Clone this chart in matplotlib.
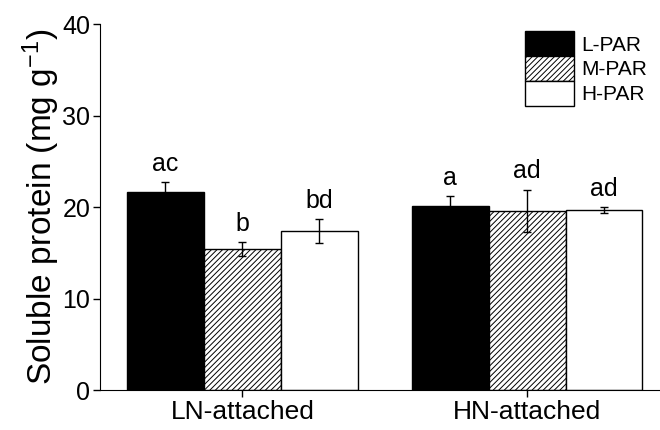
#!/usr/bin/env python3

import numpy as np
import matplotlib
matplotlib.use("Agg")
import matplotlib.pyplot as plt

# data
groups = ["LN-attached", "HN-attached"]
treatments = ["L-PAR", "M-PAR", "H-PAR"]
means = {
    "L-PAR": [21.6, 20.1],
    "M-PAR": [15.4, 19.6],
    "H-PAR": [17.4, 19.7],
}
errors = {
    "L-PAR": [1.1, 1.1],
    "M-PAR": [0.8, 2.3],
    "H-PAR": [1.3, 0.3],
}
letters = {
    "L-PAR": ["ac", "a"],
    "M-PAR": ["b", "ad"],
    "H-PAR": ["bd", "ad"],
}

plt.rcParams["font.family"] = ["Liberation Sans", "DejaVu Sans"]
plt.rcParams["mathtext.default"] = "regular"
plt.rcParams["hatch.linewidth"] = 0.7

styles = {
    "L-PAR": dict(color="black", hatch=None),
    "M-PAR": dict(color="white", hatch="//////"),
    "H-PAR": dict(color="white", hatch=None),
}

fig = plt.figure(figsize=(6.6, 4.3), dpi=100)
ax = fig.add_axes([0.1515, 0.093, 0.85, 0.851])

x = np.arange(len(groups))
width = 0.27
for i, t in enumerate(treatments):
    pos = x + (i - 1) * width
    ax.bar(pos, means[t], width, color=styles[t]["color"], hatch=styles[t]["hatch"],
           edgecolor="black", linewidth=1.0, label=t)
    ax.errorbar(pos, means[t], yerr=errors[t], fmt="none", ecolor="black",
                elinewidth=1.0, capsize=3, capthick=1.0)
    for p, m, e, lab in zip(pos, means[t], errors[t], letters[t]):
        ax.annotate(lab, (p, m + e), xytext=(0, 4.5), textcoords="offset points",
                    ha="center", va="bottom", fontsize=18)

ax.set_xlim(-0.5, 1.47)
ax.set_ylim(0, 40)
ax.set_yticks([0, 10, 20, 30, 40])
ax.set_xticks(x)
ax.set_xticklabels(groups)
ax.tick_params(axis="both", direction="out", length=5, width=1)
ax.tick_params(axis="y", labelsize=18, pad=2)
ax.tick_params(axis="x", labelsize=19, pad=2)
ax.set_ylabel("Soluble protein (mg g$^{-1}$)", fontsize=24, labelpad=0)
ax.spines["top"].set_visible(False)
ax.spines["right"].set_visible(False)

leg = ax.legend(loc="upper right", bbox_to_anchor=(0.975, 0.98), frameon=False,
                fontsize=15, handlelength=2.35, handleheight=1.45,
                labelspacing=0.0, handletextpad=0.35, borderaxespad=0,
                borderpad=0)

fig.savefig("out.png", dpi=100)
